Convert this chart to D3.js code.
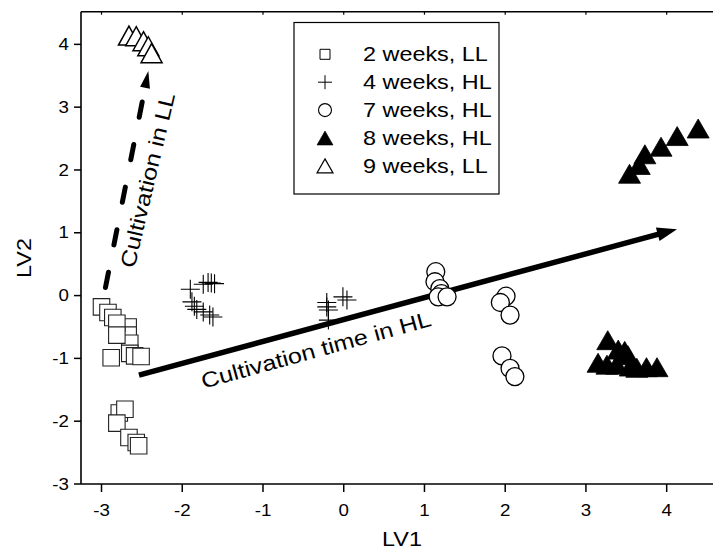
<!DOCTYPE html>
<html>
<head>
<meta charset="utf-8">
<script src="https://cdn.jsdelivr.net/npm/d3@7"></script>
<style>
    body { margin: 0; background: #fff; }
    svg text { font-family: "Liberation Sans", Arial, sans-serif; fill: #000; }
</style>
</head>
<body>
<svg id="svg-chart" width="713" height="553"></svg>
<script>
// 数据 (LV1, LV2)
let weeks2LL = [[-3.00, -0.18], [-2.92, -0.27], [-2.86, -0.35], [-2.67, -0.50], [-2.67, -0.63], [-2.65, -0.76],
    [-2.81, -0.44], [-2.81, -0.63], [-2.65, -0.92], [-2.88, -0.99], [-2.59, -0.96], [-2.51, -0.97],
    [-2.78, -1.87], [-2.71, -1.81], [-2.81, -2.03], [-2.66, -2.26], [-2.57, -2.34], [-2.54, -2.39]];
let weeks4HL = [[-1.90, 0.10], [-1.74, 0.18], [-1.68, 0.21], [-1.64, 0.20], [-1.60, 0.19],
    [-1.88, -0.10], [-1.85, -0.17], [-1.82, -0.22], [-1.74, -0.26], [-1.66, -0.31], [-1.62, -0.34],
    [-0.21, -0.11], [-0.21, -0.18], [-0.19, -0.23], [-0.19, -0.39], [-0.01, -0.02], [0.04, -0.07]];
let weeks7HL = [[1.14, 0.38], [1.13, 0.22], [1.19, 0.11], [1.21, 0.03], [1.17, -0.02], [1.28, -0.02],
    [2.01, -0.01], [1.94, -0.11], [2.06, -0.31], [1.96, -0.96], [2.06, -1.16], [2.12, -1.29]];
let weeks8HL = [[3.54, 1.94], [3.66, 2.08], [3.73, 2.25], [3.93, 2.37], [4.13, 2.54], [4.39, 2.66],
    [3.27, -0.71], [3.40, -0.86], [3.48, -0.88], [3.52, -0.95], [3.15, -1.07], [3.26, -1.10],
    [3.38, -1.10], [3.55, -1.13], [3.63, -1.15], [3.75, -1.14], [3.88, -1.14]];
let weeks9LL = [[-2.66, 4.14], [-2.57, 4.13], [-2.48, 4.05], [-2.42, 3.97], [-2.38, 3.86]];

let legendLabels = ['2 weeks, LL', '4 weeks, HL', '7 weeks, HL', '8 weeks, HL', '9 weeks, LL'];
let xTicks = [-3, -2, -1, 0, 1, 2, 3, 4];
let yTicks = [-3, -2, -1, 0, 1, 2, 3, 4];

// 箭头 (起点, 终点) 与标注
let arrowHL = [[-2.536, -1.265], [4.128, 1.058]];
let arrowLL = [[-2.957, 0.09], [-2.42, 3.576]];
let labelHL = {text: 'Cultivation time in HL', pos: [-0.318, -0.98], angle: -15.4};
let labelLL = {text: 'Cultivation in LL', pos: [-2.34, 1.81], angle: -76.8};

let svg = d3.select('#svg-chart');
let stretch = 1.17;   // 原图字体横向较宽

// 比例尺
let x = d3.scaleLinear().domain([-3.254, 4.7]).range([81, 723.2]);
let y = d3.scaleLinear().domain([-3, 4.52]).range([484, 11.7]);

// 坐标轴
let gAxis = svg.append('g');
gAxis.append('line').attr('x1', 81).attr('x2', 713).attr('y1', y(-3)).attr('y2', y(-3))
    .attr('stroke', '#000').attr('stroke-width', 1.6);
gAxis.append('line').attr('x1', 81).attr('x2', 713).attr('y1', y(4.52)).attr('y2', y(4.52))
    .attr('stroke', '#000').attr('stroke-width', 1.6);
gAxis.append('line').attr('x1', 81).attr('x2', 81).attr('y1', y(4.52)).attr('y2', y(-3))
    .attr('stroke', '#000').attr('stroke-width', 1.6);

xTicks.forEach(function (t) {
    gAxis.append('line').attr('x1', x(t)).attr('x2', x(t)).attr('y1', y(-3)).attr('y2', y(-3) + 8)
        .attr('stroke', '#000').attr('stroke-width', 1.5);
    gAxis.append('line').attr('x1', x(t)).attr('x2', x(t)).attr('y1', y(4.52)).attr('y2', y(4.52) + 3)
        .attr('stroke', '#000').attr('stroke-width', 1.2);
    gAxis.append('text')
        .attr('transform', 'translate(' + x(t) + ',516) scale(' + stretch + ',1)')
        .attr('text-anchor', 'middle')
        .style('font-size', '16px')
        .text(t);
});
yTicks.forEach(function (t) {
    gAxis.append('line').attr('x1', 74).attr('x2', 81).attr('y1', y(t)).attr('y2', y(t))
        .attr('stroke', '#000').attr('stroke-width', 1.5);
    gAxis.append('text')
        .attr('transform', 'translate(69,' + (y(t) + 5.6) + ') scale(' + stretch + ',1)')
        .attr('text-anchor', 'end')
        .style('font-size', '16px')
        .text(t);
});

// 轴标题
svg.append('text')
    .attr('transform', 'translate(402,546) scale(' + stretch + ',1)')
    .attr('text-anchor', 'middle')
    .style('font-size', '20px')
    .text('LV1');
svg.append('text')
    .attr('transform', 'translate(31,258) rotate(-90) scale(' + stretch + ',1)')
    .attr('text-anchor', 'middle')
    .style('font-size', '20px')
    .text('LV2');

// 箭头
function drawArrow(pts, width, headLen, headHalf, dash) {
    let x1 = x(pts[0][0]), y1 = y(pts[0][1]),
        x2 = x(pts[1][0]), y2 = y(pts[1][1]);
    let len = Math.hypot(x2 - x1, y2 - y1),
        ux = (x2 - x1) / len, uy = (y2 - y1) / len;
    let bx = x2 - ux * headLen, by = y2 - uy * headLen;
    let line = svg.append('line')
        .attr('x1', x1).attr('y1', y1)
        .attr('x2', bx + ux * 2).attr('y2', by + uy * 2)
        .attr('stroke', '#000')
        .attr('stroke-width', width);
    if (dash) {
        line.attr('stroke-dasharray', dash).attr('stroke-linecap', 'round')
            .attr('x1', x1 + ux * 2.5).attr('y1', y1 + uy * 2.5)
            .attr('x2', bx - ux * 12).attr('y2', by - uy * 12);
    }
    svg.append('path')
        .attr('d', 'M' + x2 + ',' + y2 +
            'L' + (bx - uy * headHalf) + ',' + (by + ux * headHalf) +
            'L' + (bx + uy * headHalf) + ',' + (by - ux * headHalf) + 'Z')
        .attr('fill', '#000');
}
drawArrow(arrowHL, 5.5, 20, 7, null);
drawArrow(arrowLL, 5, 17, 5, '15.5,27.9');

// 标注文字
[labelHL, labelLL].forEach(function (d) {
    svg.append('text')
        .attr('transform', 'translate(' + x(d.pos[0]) + ',' + y(d.pos[1]) + ') rotate(' + d.angle + ') scale(' + stretch + ',1)')
        .attr('text-anchor', 'middle')
        .style('font-size', '21.5px')
        .text(d.text);
});

// 符号
function squarePath(s) {
    return 'M' + (-s / 2) + ',' + (-s / 2) + 'h' + s + 'v' + s + 'h' + (-s) + 'Z';
}
function plusPath(s) {
    return 'M' + (-s / 2) + ',0H' + (s / 2) + 'M0,' + (-s / 2) + 'V' + (s / 2);
}
function triPath(w, h) {
    return 'M0,' + (-h / 2) + 'L' + (w / 2) + ',' + (h / 2) + 'L' + (-w / 2) + ',' + (h / 2) + 'Z';
}

let gPoints = svg.append('g');
gPoints.selectAll('.sq').data(weeks2LL).enter().append('path')
    .attr('transform', d => 'translate(' + x(d[0]) + ',' + y(d[1]) + ')')
    .attr('d', squarePath(16.5))
    .attr('fill', '#fff').attr('stroke', '#222').attr('stroke-width', 1.1);
gPoints.selectAll('.pl').data(weeks4HL).enter().append('path')
    .attr('transform', d => 'translate(' + x(d[0]) + ',' + y(d[1]) + ')')
    .attr('d', plusPath(19))
    .attr('fill', 'none').attr('stroke', '#000').attr('stroke-width', 1.1);
gPoints.selectAll('.ci').data(weeks7HL).enter().append('circle')
    .attr('cx', d => x(d[0])).attr('cy', d => y(d[1])).attr('r', 9)
    .attr('fill', '#fff').attr('stroke', '#000').attr('stroke-width', 1.3);
gPoints.selectAll('.tf').data(weeks8HL).enter().append('path')
    .attr('transform', d => 'translate(' + x(d[0]) + ',' + y(d[1]) + ')')
    .attr('d', triPath(22, 19))
    .attr('fill', '#000').attr('stroke', '#000').attr('stroke-width', 0.8);
gPoints.selectAll('.to').data(weeks9LL).enter().append('path')
    .attr('transform', d => 'translate(' + x(d[0]) + ',' + y(d[1]) + ')')
    .attr('d', triPath(21, 19))
    .attr('fill', '#fff').attr('stroke', '#000').attr('stroke-width', 1.5);

// 图例
let gLegend = svg.append('g');
gLegend.append('rect')
    .attr('x', 294).attr('y', 22.5).attr('width', 205).attr('height', 171.5)
    .attr('fill', '#fff').attr('stroke', '#000').attr('stroke-width', 1.2);
let legendSymbols = [
    {d: squarePath(10), fill: '#fff', sw: 1},
    {d: plusPath(14), fill: 'none', sw: 1},
    {d: null, fill: '#fff', sw: 1.1},
    {d: triPath(16, 14), fill: '#000', sw: 0.6},
    {d: triPath(16, 14), fill: '#fff', sw: 1.2}
];
legendLabels.forEach(function (label, i) {
    let cy = 54.3 + i * 27.9;
    let s = legendSymbols[i];
    if (s.d) {
        gLegend.append('path')
            .attr('transform', 'translate(325,' + cy + ')')
            .attr('d', s.d)
            .attr('fill', s.fill).attr('stroke', '#000').attr('stroke-width', s.sw);
    } else {
        gLegend.append('circle')
            .attr('cx', 325).attr('cy', cy).attr('r', 6.5)
            .attr('fill', s.fill).attr('stroke', '#000').attr('stroke-width', s.sw);
    }
    gLegend.append('text')
        .attr('transform', 'translate(363,' + (cy + 7) + ') scale(' + stretch + ',1)')
        .style('font-size', '20px')
        .text(label);
});
</script>
</body>
</html>
